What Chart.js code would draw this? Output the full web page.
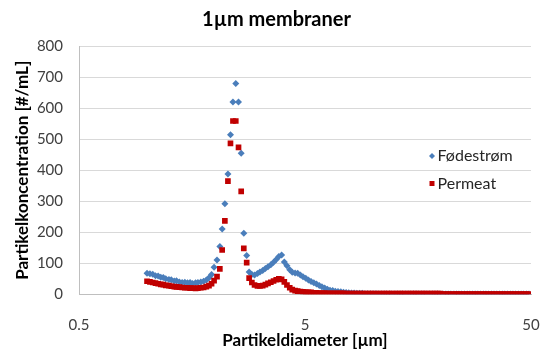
<!DOCTYPE html>
<html>
<head>
<meta charset="utf-8">
<title>1µm membraner</title>
<script src="https://cdn.jsdelivr.net/npm/chart.js"></script>
<style>
  body { margin: 0; background: #fff; }
  #wrap { width: 541px; height: 353px; }
</style>
</head>
<body>
<div id="wrap"><canvas id="sizeChart"></canvas></div>
<script>
// bin diameters in µm (log spaced, 1 - 49 µm)
const diameters = [
  1.00, 1.03, 1.06, 1.09, 1.12, 1.15, 1.18, 1.21, 1.25, 1.28,
  1.32, 1.35, 1.39, 1.43, 1.47, 1.51, 1.55, 1.59, 1.64, 1.68,
  1.73, 1.78, 1.83, 1.88, 1.93, 1.98, 2.04, 2.10, 2.15, 2.21,
  2.28, 2.34, 2.40, 2.47, 2.54, 2.61, 2.68, 2.76, 2.83, 2.91,
  2.99, 3.08, 3.16, 3.25, 3.34, 3.43, 3.53, 3.63, 3.73, 3.83,
  3.94, 4.05, 4.16, 4.28, 4.39, 4.52, 4.64, 4.77, 4.90, 5.04,
  5.18, 5.32, 5.47, 5.62, 5.78, 5.94, 6.11, 6.28, 6.45, 6.63,
  6.81, 7.00, 7.20, 7.40, 7.60, 7.81, 8.03, 8.25, 8.48, 8.72,
  8.96, 9.21, 9.47, 9.73, 10.0, 10.3, 10.6, 10.9, 11.2, 11.5,
  11.8, 12.1, 12.5, 12.8, 13.2, 13.5, 13.9, 14.3, 14.7, 15.1,
  15.5, 15.9, 16.4, 16.8, 17.3, 17.8, 18.3, 18.8, 19.3, 19.8,
  20.4, 21.0, 21.5, 22.1, 22.8, 23.4, 24.0, 24.7, 25.4, 26.1,
  26.8, 27.6, 28.3, 29.1, 29.9, 30.8, 31.6, 32.5, 33.4, 34.3,
  35.3, 36.3, 37.3, 38.3, 39.4, 40.5, 41.6, 42.8, 43.9, 45.2,
  46.4, 47.7, 49.0
];

// Fødestrøm, particles per mL
const feedValues = [
  68, 66, 65, 60, 59, 55, 54, 50, 48, 47,
  43, 44, 40, 38, 39, 37, 38, 35, 37, 38,
  40, 42, 46, 53, 64, 87, 111, 154, 211, 292,
  388, 515, 620, 680, 620, 455, 197, 125, 72, 64,
  62, 67, 72, 77, 83, 89, 95, 103, 112, 122,
  127, 104, 92, 79, 71, 69, 68, 62, 57, 52,
  46, 41, 37, 33, 28, 24, 20, 16, 13, 12,
  10, 9, 8, 7, 6, 5, 4, 4, 3, 3,
  3, 2, 2, 2, 2, 2, 1, 1, 1, 1,
  1, 1, 1, 1, 1, 1, 1, 1, 1, 1,
  1, 1, 1, 1, 1, 1, 1, 1, 1, 1,
  1, 1, 1, 1, 1, 1, 1, 1, 1, 1,
  1, 1, 1, 1, 1, 1, 1, 1, 1, 1,
  1, 1, 1, 1, 1, 1, 1, 1, 1, 1,
  1, 1, 1
];

// Permeat, particles per mL
const permeateValues = [
  42, 40, 38, 36, 34, 32, 31, 29, 28, 26,
  25, 24, 23, 22, 21, 21, 20, 20, 19, 20,
  21, 22, 25, 28, 34, 44, 57, 82, 143, 237,
  365, 487, 559, 559, 474, 332, 148, 102, 52, 38,
  30, 27, 27, 28, 31, 35, 39, 43, 47, 50,
  48, 40, 30, 21, 15, 12, 10, 9, 8, 7,
  6, 6, 5, 5, 4, 4, 4, 3, 3, 3,
  3, 3, 3, 3, 2, 2, 2, 2, 2, 2,
  2, 2, 2, 2, 2, 2, 2, 2, 2, 2,
  2, 2, 2, 2, 2, 2, 2, 2, 2, 2,
  2, 2, 2, 2, 2, 2, 2, 2, 2, 2,
  1, 1, 1, 1, 1, 1, 1, 1, 1, 1,
  1, 1, 1, 1, 1, 1, 1, 1, 1, 1,
  1, 1, 1, 1, 1, 1, 1, 1, 1, 1,
  1, 1, 1
];

const xTicks = [0.5, 5, 50];

const FONT = 'Lato, "Open Sans", sans-serif';

function toPoints(values) {
  return diameters.map((d, i) => ({ x: d, y: values[i] }));
}

// small legend sitting inside the plot area
const insideLegend = {
  id: 'insideLegend',
  afterDraw(chart, args, opts) {
    const ctx = chart.ctx;
    ctx.save();
    ctx.font = '16px ' + FONT;
    ctx.textBaseline = 'middle';
    chart.data.datasets.forEach((ds, i) => {
      const x = opts.x, y = opts.y + i * opts.gap;
      ctx.fillStyle = ds.backgroundColor;
      ctx.beginPath();
      if (ds.pointStyle === 'rectRot') {
        ctx.moveTo(x - 3, y); ctx.lineTo(x, y - 3);
        ctx.lineTo(x + 3, y); ctx.lineTo(x, y + 3);
        ctx.closePath();
      } else {
        ctx.rect(x - 2.5, y - 2.5, 5, 5);
      }
      ctx.fill();
      ctx.fillStyle = '#262626';
      ctx.fillText(ds.label, x + 5.5, y);
    });
    ctx.restore();
  }
};

new Chart(document.getElementById('sizeChart'), {
  type: 'scatter',
  data: {
    datasets: [{
      label: 'Fødestrøm',
      data: toPoints(feedValues),
      pointStyle: 'rectRot',
      pointRadius: 3.5,
      backgroundColor: '#4a7ebb',
      borderWidth: 0,
      order: 1
    }, {
      label: 'Permeat',
      data: toPoints(permeateValues),
      pointStyle: 'rect',
      pointRadius: 4,
      backgroundColor: '#c00000',
      borderWidth: 0,
      order: 0
    }]
  },
  options: {
    responsive: true,
    maintainAspectRatio: false,
    animation: false,
    events: [],
    layout: { padding: { left: 12, right: 0, top: 0, bottom: 0 } },
    plugins: {
      legend: { display: false },
      tooltip: { enabled: false },
      title: {
        display: true,
        text: '1µm membraner',
        color: '#000',
        font: { family: FONT, size: 20, weight: 'bold' },
        padding: { top: 7.5, bottom: 14.8 }
      },
      insideLegend: { x: 432, y: 156, gap: 27.5 }
    },
    scales: {
      x: {
        type: 'logarithmic',
        min: 0.5,
        max: 50,
        afterBuildTicks: s => { s.ticks = xTicks.map(v => ({ value: v })); },
        afterFit: s => { s.height = 58.7; s.paddingRight = 10; },
        grid: { display: false },
        border: { color: '#bfbfbf' },
        ticks: {
          autoSkip: false,
          maxRotation: 0,
          padding: 14,
          color: '#404040',
          font: { family: FONT, size: 15 },
          callback: v => String(v)
        },
        title: {
          display: true,
          text: 'Partikeldiameter [µm]',
          color: '#000',
          font: { family: FONT, size: 17, weight: 'bold' },
          padding: { top: 0, bottom: 2 }
        }
      },
      y: {
        min: 0,
        max: 800,
        afterFit: s => { s.width = 67; },
        grid: { color: '#d9d9d9', drawTicks: false },
        border: { color: '#bfbfbf' },
        ticks: {
          stepSize: 100,
          padding: 16,
          color: '#404040',
          font: { family: FONT, size: 15 }
        },
        title: {
          display: true,
          text: 'Partikelkoncentration [#/mL]',
          color: '#000',
          font: { family: FONT, size: 17, weight: 'bold' },
          padding: { top: 0, bottom: 0 }
        }
      }
    }
  },
  plugins: [insideLegend]
});
</script>
</body>
</html>
